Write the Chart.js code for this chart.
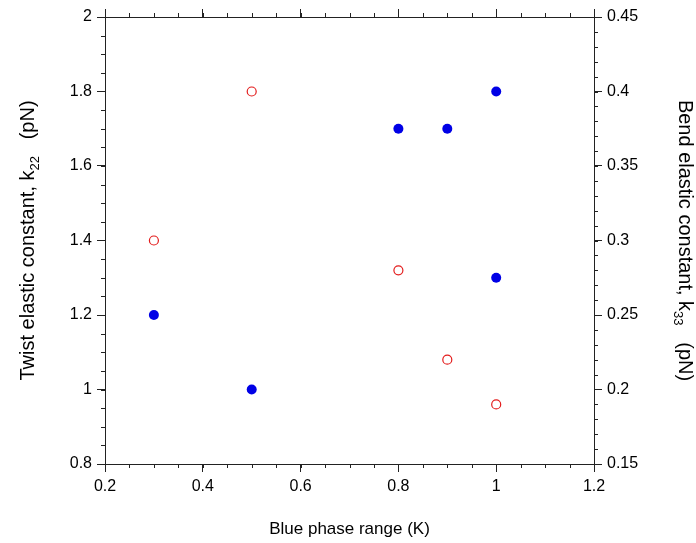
<!DOCTYPE html>
<html>
<head>
<meta charset="utf-8">
<script src="https://cdn.jsdelivr.net/npm/chart.js@4.4.1/dist/chart.umd.min.js"></script>
<style>
    body { margin: 0; background: #fff; }
    #wrap { width: 696px; height: 543px; }
</style>
</head>
<body>
<div id="wrap"><canvas id="bpChart"></canvas></div>
<script>
// data
const rangeTwist = [0.3, 0.5, 0.8, 0.9, 1.0, 1.0];
const twistK22 = [1.2, 1.0, 1.7, 1.7, 1.8, 1.3];
const rangeBend = [0.3, 0.5, 0.8, 0.9, 1.0];
const bendK33 = [0.30, 0.40, 0.28, 0.22, 0.19];

// axis ranges / tick steps [min, max, major, minor]
const xAxis = [0.2, 1.2, 0.2, 0.05];
const leftAxis = [0.8, 2.0, 0.2, 0.05];
const rightAxis = [0.15, 0.45, 0.05, 0.01];

const axisColor = '#222';
const fontFamily = '"Liberation Sans", Arial, sans-serif';

function fmt(v) {
    return String(+v.toFixed(2));
}

function toPoints(xs, ys) {
    return xs.map((x, i) => ({ x: x, y: ys[i] }));
}

function scaleOpts(range, position, showLabels, size) {
    return {
        type: 'linear',
        position: position,
        min: range[0],
        max: range[1],
        border: { display: true, color: axisColor, width: 1 },
        grid: { drawOnChartArea: false, drawTicks: true, tickLength: 8, color: axisColor },
        ticks: {
            display: showLabels,
            stepSize: range[2],
            padding: 5,
            color: '#000',
            font: { family: fontFamily, size: 16 },
            callback: v => fmt(v)
        },
        afterFit: function(scale) {
            if (scale.isHorizontal()) scale.height = size;
            else scale.width = size;
        }
    };
}

// minor ticks (outward) on all four sides
const minorTicks = {
    id: 'minorTicks',
    afterDraw(chart) {
        const ctx = chart.ctx;
        const a = chart.chartArea;
        ctx.save();
        ctx.strokeStyle = axisColor;
        ctx.lineWidth = 1;
        ctx.beginPath();
        function each(scale, r, fn) {
            let n = Math.round((r[1] - r[0]) / r[3]);
            for (let i = 0; i <= n; i++) {
                fn(Math.round(scale.getPixelForValue(r[0] + i * r[3])) + 0.5);
            }
        }
        each(chart.scales.x, xAxis, p => {
            ctx.moveTo(p, a.bottom); ctx.lineTo(p, a.bottom + 4);
            ctx.moveTo(p, a.top); ctx.lineTo(p, a.top - 4);
        });
        each(chart.scales.y, leftAxis, p => {
            ctx.moveTo(a.left, p); ctx.lineTo(a.left - 4, p);
        });
        each(chart.scales.y2, rightAxis, p => {
            ctx.moveTo(a.right, p); ctx.lineTo(a.right + 4, p);
        });
        ctx.stroke();
        ctx.restore();
    }
};

// axis titles with subscripts
function drawTitle(ctx, parts, x, y, rot, size) {
    let subSize = Math.round(size * 0.65);
    ctx.save();
    ctx.translate(x, y);
    ctx.rotate(rot);
    ctx.fillStyle = '#000';
    ctx.textBaseline = 'middle';
    ctx.textAlign = 'left';
    let total = 0;
    parts.forEach(p => {
        ctx.font = (p.sub ? subSize : size) + 'px ' + fontFamily;
        p.w = ctx.measureText(p.t).width;
        total += p.w;
    });
    let cx = -total / 2;
    parts.forEach(p => {
        ctx.font = (p.sub ? subSize : size) + 'px ' + fontFamily;
        ctx.fillText(p.t, cx, p.sub ? size * 0.35 : 0);
        cx += p.w;
    });
    ctx.restore();
}

const axisTitles = {
    id: 'axisTitles',
    afterDraw(chart) {
        const ctx = chart.ctx;
        const a = chart.chartArea;
        const midY = (a.top + a.bottom) / 2;
        drawTitle(ctx, [{ t: 'Blue phase range (K)' }], (a.left + a.right) / 2, a.bottom + 65, 0, 17);
        drawTitle(ctx, [{ t: 'Twist elastic constant, k' }, { t: '22', sub: true }, { t: '   (pN)' }],
            a.left - 77, midY, -Math.PI / 2, 20);
        drawTitle(ctx, [{ t: 'Bend elastic constant, k' }, { t: '33', sub: true }, { t: '   (pN)' }],
            a.right + 91, midY, Math.PI / 2, 20);
    }
};

const ctx = document.getElementById('bpChart').getContext('2d');
const myChart = new Chart(ctx, {
    type: 'scatter',
    data: {
        datasets: [{
            label: 'k22',
            data: toPoints(rangeTwist, twistK22),
            yAxisID: 'y',
            xAxisID: 'x',
            pointRadius: 5,
            backgroundColor: '#0000e6',
            borderColor: '#0000e6',
            borderWidth: 0
        }, {
            label: 'k33',
            data: toPoints(rangeBend, bendK33),
            yAxisID: 'y2',
            xAxisID: 'x',
            pointRadius: 4.5,
            backgroundColor: 'rgba(255,255,255,0)',
            borderColor: '#e31b1b',
            borderWidth: 1.2
        }]
    },
    options: {
        responsive: true,
        maintainAspectRatio: false,
        animation: false,
        layout: { padding: 0 },
        plugins: {
            legend: { display: false },
            tooltip: { enabled: false }
        },
        scales: {
            x: scaleOpts(xAxis, 'bottom', true, 79),
            x2: scaleOpts(xAxis, 'top', false, 17),
            y: scaleOpts(leftAxis, 'left', true, 105),
            y2: scaleOpts(rightAxis, 'right', true, 102)
        }
    },
    plugins: [minorTicks, axisTitles]
});
</script>
</body>
</html>
